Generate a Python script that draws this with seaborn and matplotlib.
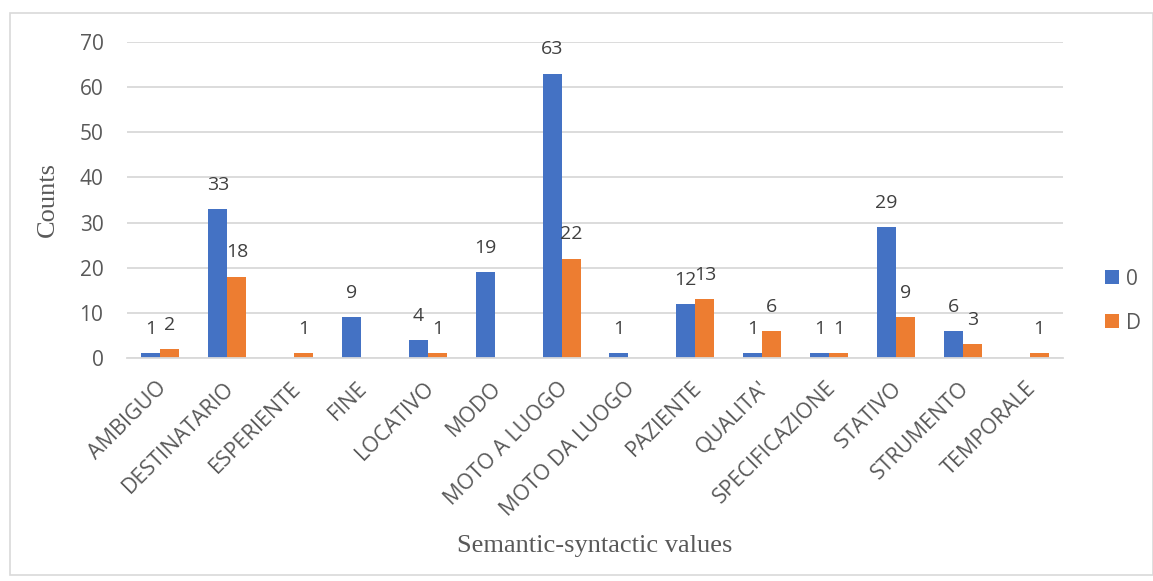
import matplotlib
matplotlib.use("Agg")
import matplotlib.pyplot as plt
import seaborn as sns
import pandas as pd
import numpy as np
from matplotlib.patches import Rectangle
from matplotlib.transforms import ScaledTranslation

categories = ["AMBIGUO", "DESTINATARIO", "ESPERIENTE", "FINE", "LOCATIVO", "MODO",
              "MOTO A LUOGO", "MOTO DA LUOGO", "PAZIENTE", "QUALITA'", "SPECIFICAZIONE",
              "STATIVO", "STRUMENTO", "TEMPORALE"]
series_0 = [1, 33, 0, 9, 4, 19, 63, 1, 12, 1, 1, 29, 6, 0]
series_D = [2, 18, 1, 0, 1, 0, 22, 0, 13, 6, 1, 9, 3, 1]
series_names = ["0", "D"]
colors = ["#4472C4", "#ED7D31"]
yticks = [0, 10, 20, 30, 40, 50, 60, 70]

df = pd.DataFrame({
    "category": categories * 2,
    "value": series_0 + series_D,
    "series": [series_names[0]] * len(categories) + [series_names[1]] * len(categories),
})

sns.set_theme(style="white")
plt.rcParams['font.family'] = ['Open Sans', 'DejaVu Sans']
txt = "#595959"

fig = plt.figure(figsize=(11.53, 5.81), dpi=100)
ax = fig.add_axes([127/1153, 1 - 358/581, (1063-127)/1153, (358-42)/581])

sns.barplot(data=df, x="category", y="value", hue="series", order=categories,
            hue_order=series_names, palette=colors, width=0.57, gap=0,
            linewidth=0, saturation=1, ax=ax, legend=True)

for cont in ax.containers:
    labels = [f"{int(v)}" if v > 0 else "" for v in cont.datavalues]
    ax.bar_label(cont, labels=labels, padding=11, fontsize=14, color="#404040")

ax.set_ylim(0, 70)
ax.set_yticks(yticks)
ax.set_xlim(-0.5, len(categories) - 0.5)
ax.yaxis.grid(True, color="#D9D9D9", linewidth=1.3)
ax.set_axisbelow(True)
for s in ["top", "right", "left"]:
    ax.spines[s].set_visible(False)
ax.spines["bottom"].set_color("#D9D9D9")
ax.spines["bottom"].set_linewidth(1.3)
ax.tick_params(axis="y", labelsize=15, labelcolor=txt, length=0, pad=17)
ax.tick_params(axis="x", labelsize=15.5, labelcolor=txt, length=0, pad=14)
offset = ScaledTranslation(-4/100, 0, fig.dpi_scale_trans)
for lab in ax.get_xticklabels():
    lab.set_rotation(45)
    lab.set_ha("right")
    lab.set_rotation_mode("anchor")
    lab.set_transform(lab.get_transform() + offset)

ax.set_xlabel("Semantic-syntactic values", family="Liberation Serif", fontsize=19,
              color=txt)
ax.xaxis.set_label_coords(0.5, -0.56)
ax.set_ylabel("Counts", family="Liberation Serif", fontsize=19, color=txt)
ax.yaxis.set_label_coords(-0.073, 0.5)

leg = ax.legend(title=None, loc="center left", bbox_to_anchor=(1.025, 0.18), frameon=False,
                fontsize=15, labelspacing=1.1, handlelength=0.65, handleheight=0.65,
                handletextpad=0.35)
for t in leg.get_texts():
    t.set_color(txt)

fig.patches.append(Rectangle((10/1153, 6/581), 1 - 10/1153, 1 - 19/581,
                             transform=fig.transFigure, fill=False,
                             edgecolor="#D9D9D9", linewidth=1.2))

fig.savefig("out.png", dpi=100)
